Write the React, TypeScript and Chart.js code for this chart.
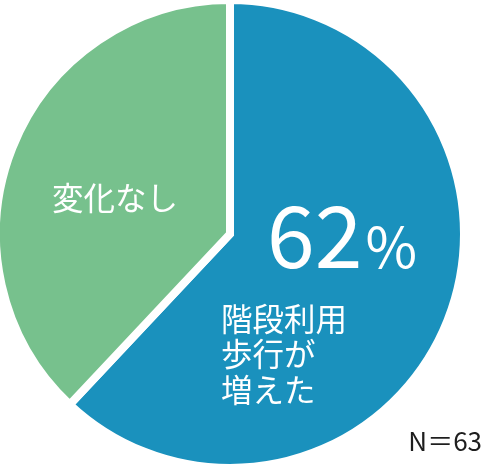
import { Chart, registerables } from 'chart.js';
import { useEffect, useRef } from 'react';

Chart.register(...registerables);

// share of respondents (%), N = 63
const labels = ['階段利用歩行が増えた', '変化なし'];
const shares = [62, 38];
const colors = ['#1a91bd', '#77c18d'];
const sampleNote = 'N＝63';

const FONT = '"Noto Sans CJK JP", "Noto Sans", sans-serif';

// draws the slice labels on top of the pie
const labelPlugin = {
  id: 'sliceLabels',
  afterDraw(chart: Chart) {
    const arc: any = chart.getDatasetMeta(0).data[0];
    if (!arc) return;
    const cx = arc.x;
    const cy = arc.y;
    const ctx = chart.ctx;
    ctx.save();
    ctx.fillStyle = '#ffffff';
    ctx.textAlign = 'left';

    // green slice
    ctx.font = `31.5px ${FONT}`;
    ctx.textBaseline = 'middle';
    ctx.fillText(labels[1], cx - 178, cy - 36);

    // big percentage
    ctx.textBaseline = 'alphabetic';
    ctx.font = `86px ${FONT}`;
    const num = String(shares[0]);
    ctx.fillText(num, cx + 37, cy + 34);
    const w = ctx.measureText(num).width;
    ctx.font = `56px ${FONT}`;
    ctx.fillText('%', cx + 37 + w + 3, cy + 34);

    // blue slice caption, three lines
    ctx.font = `31.5px ${FONT}`;
    ctx.textBaseline = 'middle';
    const lines = ['階段利用', '歩行が', '増えた'];
    lines.forEach((t, i) => ctx.fillText(t, cx - 9, cy + 85 + i * 35.5));

    // sample size
    ctx.fillStyle = '#1e1e1e';
    ctx.textAlign = 'right';
    ctx.textBaseline = 'alphabetic';
    ctx.font = `26px ${FONT}`;
    ctx.fillText(sampleNote, 490, 455);
    ctx.restore();
  },
};

const PieChart: React.FC = () => {
  const chartRef = useRef<HTMLCanvasElement>(null);
  const chartInstanceRef = useRef<Chart | null>(null);

  useEffect(() => {
    const ctx = chartRef.current?.getContext('2d');

    if (ctx && chartInstanceRef.current === null) {
      chartInstanceRef.current = new Chart(ctx, {
        type: 'pie',
        data: {
          labels,
          datasets: [{
            data: shares,
            backgroundColor: colors,
            borderColor: '#ffffff',
            borderWidth: 8,
            hoverOffset: 0,
            borderJoinStyle: 'miter',
          }],
        },
        options: {
          responsive: false,
          animation: false,
          layout: { padding: { left: 0, right: 24, top: 0, bottom: 0 } },
          plugins: {
            legend: { display: false },
            tooltip: { enabled: false },
          },
        },
        plugins: [labelPlugin],
      });
    }

    return () => {
      if (chartInstanceRef.current) {
        chartInstanceRef.current.destroy();
        chartInstanceRef.current = null;
      }
    };
  }, []);

  return (
    <div style={{ position: 'fixed', left: 0, top: 0, width: 492, height: 465, overflow: 'hidden', background: '#fff' }}>
      <canvas
        ref={chartRef}
        width={500}
        height={476}
        style={{ position: 'absolute', left: -8, top: -4, width: 500, height: 476 }}
      />
    </div>
  );
};

export default function App() {
  return <PieChart />;
}
